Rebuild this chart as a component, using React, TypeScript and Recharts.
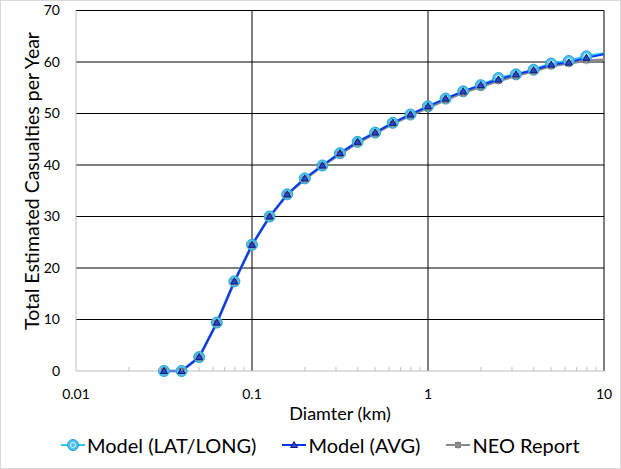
import { LineChart, Line, XAxis, YAxis, CartesianGrid } from 'recharts'

document.body.style.margin = '0'

// diameter in km, 10 points per decade
const DIAMETER_KM = [
  0.0316, 0.0398, 0.0501, 0.0631, 0.0794, 0.1, 0.1259, 0.1585, 0.1995, 0.2512, 0.3162, 0.3981, 0.5012,
  0.631, 0.7943, 1, 1.259, 1.585, 1.995, 2.512, 3.162, 3.981, 5.012, 6.31, 7.943, 12.59,
]
const MODEL_LATLONG = [
  0, 0, 2.7, 9.4, 17.4, 24.5, 30.0, 34.3, 37.4, 39.9, 42.3, 44.5, 46.3, 48.2, 49.8, 51.4, 52.9, 54.3, 55.5,
  56.9, 57.6, 58.5, 59.7, 60.2, 61.1, 62.3,
]
const MODEL_AVG = [
  0, 0, 2.7, 9.4, 17.4, 24.5, 30.0, 34.3, 37.4, 39.9, 42.3, 44.5, 46.3, 48.2, 49.8, 51.4, 52.9, 54.3, 55.5,
  56.6, 57.6, 58.4, 59.5, 59.9, 60.8, 62.2,
]
const NEO_REPORT = [
  0, 0, 2.6, 9.3, 17.3, 24.4, 29.9, 34.2, 37.2, 39.8, 42.1, 44.3, 46.1, 48.0, 49.6, 51.1, 52.6, 54.0, 55.2,
  56.3, 57.3, 58.2, 59.2, 59.7, 60.3, 60.6,
]

const X_TICKS = [
  0.01, 0.02, 0.03, 0.04, 0.05, 0.06, 0.07, 0.08, 0.09, 0.1, 0.2, 0.3, 0.4, 0.5, 0.6, 0.7, 0.8, 0.9, 1, 2, 3, 4,
  5, 6, 7, 8, 9, 10,
]
const X_MAJOR = [0.01, 0.1, 1, 10]
const Y_TICKS = [0, 10, 20, 30, 40, 50, 60, 70]

const data = DIAMETER_KM.map((d, i) => ({
  d,
  latlong: MODEL_LATLONG[i],
  avg: MODEL_AVG[i],
  neo: NEO_REPORT[i],
}))

const FONT = "Lato, 'Open Sans', sans-serif"
const CYAN = '#33C5F3'
const BLUE = '#0A35F5'
const GREY = '#8A8A8A'

const CircleDot = ({ cx, cy }: any) => (
  <g>
    <circle cx={cx} cy={cy} r={5.5} fill="#4CC3EC" stroke="#2AA3D3" strokeWidth={1} />
    <circle cx={cx} cy={cy} r={2.5} fill="none" stroke="#ffffff" strokeWidth={0.8} />
  </g>
)
const TriDot = ({ cx, cy }: any) => (
  <path d={`M${cx},${cy - 3.5}L${cx + 3.5},${cy + 2.5}L${cx - 3.5},${cy + 2.5}Z`} fill="#2b46c8" stroke="#0a1a80" strokeWidth={1} />
)
const SquareDot = ({ cx, cy }: any) => (
  <g>
    <rect x={cx - 3} y={cy - 3} width={6} height={6} fill="#7d7d7d" />
    <path d={`M${cx - 4},${cy}H${cx + 4}M${cx},${cy - 4}V${cy + 4}`} stroke="#9a9a9a" strokeWidth={1} />
  </g>
)

const XTick = ({ x, y, payload }: any) => {
  const v = payload.value
  if (X_MAJOR.includes(v)) {
    return (
      <text x={x} y={y + 28} textAnchor="middle" fontSize={14} fontFamily={FONT} fill="#000">
        {String(v)}
      </text>
    )
  }
  return <line x1={x} x2={x} y1={y} y2={y - 4} stroke="#BFBFBF" />
}

const LEGEND = [
  { name: 'Model (LAT/LONG)', color: CYAN, Dot: CircleDot },
  { name: 'Model (AVG)', color: BLUE, Dot: TriDot },
  { name: 'NEO Report', color: GREY, Dot: SquareDot },
]

export default function App() {
  return (
    <div style={{ position: 'relative', width: 619, height: 467, border: '1px solid #D9D9D9', background: '#fff' }}>
      <div style={{ position: 'absolute', left: -1, top: -1 }}>
        <LineChart width={621} height={469} data={data} margin={{ top: 10.5, right: 17, left: 0, bottom: 38 }}>
          <CartesianGrid
            stroke="#000"
            strokeWidth={1}
            horizontalValues={[10, 20, 30, 40, 50, 60, 70]}
            verticalValues={[0.1, 1, 10]}
          />
          <XAxis
            dataKey="d"
            type="number"
            scale="log"
            domain={[0.01, 10]}
            allowDataOverflow
            ticks={X_TICKS}
            interval={0}
            tick={<XTick />}
            tickLine={false}
            tickSize={0}
            tickMargin={0}
            height={60}
            stroke="#BFBFBF"
            label={{
              content: ({ viewBox }: any) => (
                <text
                  x={viewBox.x + viewBox.width / 2}
                  y={viewBox.y + 49}
                  textAnchor="middle"
                  fontSize={18}
                  fontFamily={FONT}
                  fill="#000"
                >
                  Diamter (km)
                </text>
              ),
            }}
          />
          <YAxis
            type="number"
            domain={[0, 70]}
            ticks={Y_TICKS}
            interval={0}
            width={76}
            tickLine={false}
            tickSize={0}
            tickMargin={16}
            stroke="#BFBFBF"
            tick={{ fontSize: 14, fontFamily: FONT, fill: '#000' }}
            label={{
              content: () => (
                <text
                  x={31}
                  y={181}
                  transform="rotate(-90 31 181)"
                  textAnchor="middle"
                  dominantBaseline="central"
                  fontSize={19.5}
                  fontFamily={FONT}
                  fill="#000"
                >
                  Total Estimated Casualties per Year
                </text>
              ),
            }}
          />
          <Line
            dataKey="latlong"
            stroke={CYAN}
            strokeWidth={2.5}
            dot={<CircleDot />}
            activeDot={false}
            isAnimationActive={false}
          />
          <Line
            dataKey="neo"
            stroke={GREY}
            strokeWidth={2.5}
            dot={<SquareDot />}
            activeDot={false}
            isAnimationActive={false}
          />
          <Line
            dataKey="avg"
            stroke={BLUE}
            strokeWidth={2}
            dot={<TriDot />}
            activeDot={false}
            isAnimationActive={false}
          />
        </LineChart>
      </div>
      <div
        style={{
          position: 'absolute',
          top: 431,
          left: 60,
          display: 'flex',
          alignItems: 'center',
          gap: 26,
          fontFamily: FONT,
          fontSize: 20,
          lineHeight: '26px',
          color: '#000',
        }}
      >
        {LEGEND.map(({ name, color, Dot }) => (
          <div key={name} style={{ display: 'flex', alignItems: 'center', gap: 2 }}>
            <svg width={24} height={14}>
              <line x1={0} x2={24} y1={7} y2={7} stroke={color} strokeWidth={2} />
              <Dot cx={12} cy={7} />
            </svg>
            <span>{name}</span>
          </div>
        ))}
      </div>
    </div>
  )
}
